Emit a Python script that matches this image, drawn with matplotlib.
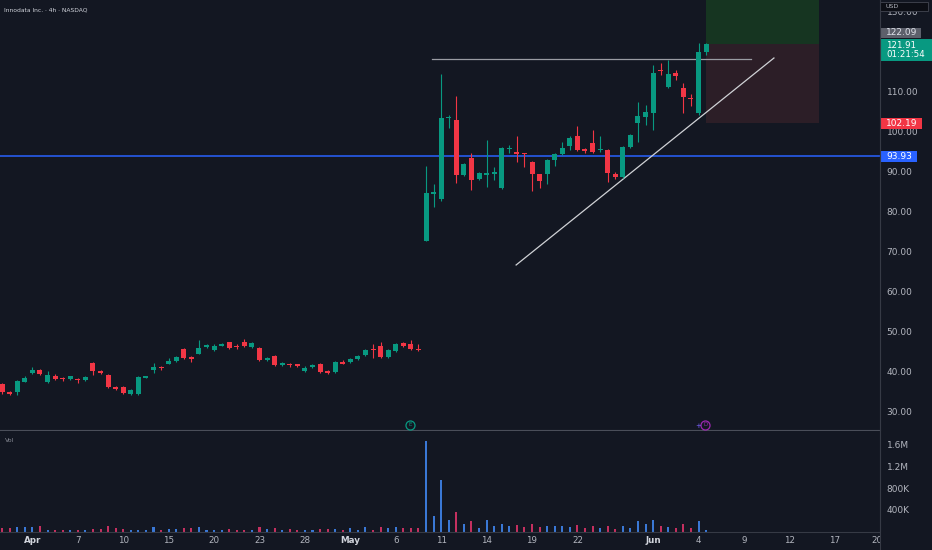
import numpy as np
import matplotlib
matplotlib.use('Agg')
import matplotlib.pyplot as plt
from matplotlib.patches import Rectangle
from matplotlib.transforms import blended_transform_factory

# 4h candles, Innodata Inc.
opens = [36.9, 35.1, 34.9, 37.6, 39.8, 40.4, 37.5, 39.1, 38.3, 38.2,
         38.3, 37.9, 42.3, 40.3, 39.3, 36.3, 36.3, 34.5, 34.5, 38.6,
         40.4, 41.2, 42.1, 42.75, 45.7, 43.8, 44.6, 46.2, 45.5, 46.6,
         47.4, 46.4, 47.4, 46.3, 46.1, 43.0, 44.0, 41.7, 42.1, 41.9,
         40.3, 41.2, 42.0, 40.2, 40.0, 42.6, 42.4, 43.25, 44.3, 45.75,
         46.4, 43.7, 45.25, 47.2, 47.1, 45.8,
         72.75, 84.6, 83.2, 103.4, 103.0, 89.25, 93.4, 88.2, 89.25, 89.6,
         86.1, 95.8, 95.0, 94.75, 92.5, 89.4, 89.5, 93.0, 94.5, 96.5,
         99.0, 95.7, 97.25, 95.4, 95.5, 89.6, 88.8, 96.2, 102.2, 103.75,
         104.8, 115.4, 111.2, 114.7, 111.1, 108.5, 104.7, 119.9]
closes = [34.9, 34.4, 37.75, 38.4, 40.5, 39.4, 39.25, 38.2, 38.2, 38.9,
          38.0, 38.7, 40.25, 39.7, 36.3, 35.75, 34.7, 35.5, 38.7, 38.9,
          41.25, 41.0, 42.8, 43.75, 43.6, 43.2, 46.1, 46.8, 46.6, 47.0,
          46.0, 46.2, 46.5, 47.25, 43.0, 43.5, 41.75, 42.25, 41.75, 41.5,
          41.1, 41.8, 40.0, 39.8, 42.5, 42.1, 43.25, 44.0, 45.5, 45.6,
          43.7, 45.4, 47.0, 46.4, 45.8, 45.5,
          84.8, 85.0, 103.4, 103.8, 89.25, 91.9, 88.0, 89.7, 89.8, 89.9,
          95.9, 96.0, 94.6, 94.4, 89.4, 87.8, 93.0, 94.5, 96.1, 98.4,
          95.6, 95.3, 95.0, 95.75, 89.75, 88.7, 96.3, 99.25, 104.0, 105.0,
          114.8, 115.2, 114.4, 114.1, 108.7, 108.3, 120.1, 121.91]
highs = [37.3, 35.3, 38.0, 38.9, 41.2, 40.7, 40.2, 39.4, 38.8, 39.1,
         38.6, 38.9, 42.5, 40.6, 39.5, 36.5, 36.5, 35.8, 38.9, 39.1,
         42.3, 41.5, 43.4, 44.1, 45.9, 44.0, 48.0, 47.0, 47.0, 47.3,
         47.6, 46.9, 48.2, 47.6, 46.3, 43.8, 44.3, 42.5, 42.3, 42.1,
         41.4, 42.0, 42.2, 40.4, 42.7, 42.9, 43.5, 44.3, 45.8, 46.9,
         47.6, 45.7, 47.3, 47.5, 47.9, 46.9,
         91.5, 86.9, 114.5, 104.25, 109.1, 92.3, 94.7, 90.0, 98.0, 91.3,
         96.2, 96.7, 99.0, 94.8, 92.8, 89.6, 93.3, 94.8, 97.5, 98.9,
         101.5, 96.0, 100.5, 98.9, 95.8, 89.9, 96.6, 99.6, 107.6, 106.75,
         116.75, 117.2, 118.0, 115.5, 112.2, 109.5, 122.3, 122.3]
lows = [34.6, 34.2, 34.3, 37.4, 39.6, 39.2, 37.3, 38.0, 37.7, 38.0,
        37.3, 37.7, 39.3, 39.5, 36.1, 35.5, 34.5, 34.3, 34.3, 38.4,
        39.8, 40.6, 41.9, 42.6, 43.3, 42.6, 44.4, 46.0, 45.3, 46.4,
        45.8, 45.7, 46.3, 46.0, 42.8, 42.7, 41.5, 41.5, 41.3, 41.3,
        40.0, 41.0, 39.8, 39.6, 39.8, 41.9, 42.2, 43.0, 44.0, 43.6,
        43.5, 43.5, 45.0, 46.2, 45.6, 45.3,
        72.75, 81.3, 82.8, 100.9, 87.2, 88.9, 85.5, 87.9, 86.3, 88.0,
        85.8, 94.7, 92.6, 91.3, 85.25, 85.9, 87.0, 91.5, 94.2, 95.4,
        95.3, 94.8, 94.7, 95.1, 87.6, 88.3, 88.5, 95.9, 97.6, 101.75,
        100.5, 114.25, 110.9, 113.0, 104.7, 106.5, 104.25, 119.25]
# volume in thousands
volumes = [60, 60, 75, 75, 75, 110, 35, 35, 25, 25,
           25, 30, 50, 50, 100, 60, 50, 30, 30, 35,
           85, 35, 50, 50, 60, 60, 85, 30, 30, 30,
           50, 35, 35, 35, 85, 50, 60, 30, 50, 35,
           35, 35, 50, 50, 50, 35, 60, 35, 85, 35,
           75, 60, 75, 60, 60, 60,
           1680, 295, 960, 210, 357, 130, 203, 68, 220, 98,
           148, 98, 117, 80, 130, 80, 98, 98, 110, 86,
           123, 61, 98, 68, 110, 50, 98, 68, 185, 148,
           220, 98, 86, 61, 135, 74, 203, 25]

price_ticks = [30, 40, 50, 60, 70, 80, 90, 100, 110, 120, 130]
price_tick_text = ['30.00', '40.00', '50.00', '60.00', '70.00', '80.00', '90.00',
                   '100.00', '110.00', '', '130.00']
tick_pos = [4, 10, 16, 22, 28, 34, 40, 46, 52, 58, 64, 70, 76, 86, 92, 98, 104, 110, 115.6]
tick_text = ['Apr', '7', '10', '15', '20', '23', '28', 'May', '6', '11', '14', '19', '22',
             'Jun', '4', '9', '12', '17', '20']
months = ['Apr', 'May', 'Jun']

support_level = 93.93
stop_level = 102.19
entry_level = 122.0
target_level = 140.0
resistance = 118.3
trend_x = [67.9, 101.96]
trend_y = [66.75, 118.5]

BG = '#131722'
UP = '#089981'
DOWN = '#f23645'
TXT = '#b2b5be'
LINE = '#363a45'

fig = plt.figure(figsize=(9.32, 5.5), dpi=100, facecolor=BG)
ax = fig.add_axes([0, 0.2173, 0.9442, 0.7827], facecolor=BG)
axv = fig.add_axes([0, 0.0336, 0.9442, 0.1828], facecolor=BG, sharex=ax)

x = np.arange(len(opens))
o = np.array(opens)
c = np.array(closes)
up = c >= o
cols = np.where(up, UP, DOWN)

# position tool
ax.add_patch(Rectangle((93, entry_level), 14.9, target_level - entry_level,
                       facecolor='#163521', edgecolor='none', zorder=1))
ax.add_patch(Rectangle((93, stop_level), 14.9, entry_level - stop_level,
                       facecolor='#2c1e27', edgecolor='none', zorder=1))

ax.axhline(support_level, color='#2962ff', lw=1.1, zorder=2)
ax.plot([56.8, 98.9], [resistance, resistance], color='#9a9ca3', lw=0.9, zorder=2)
ax.plot(trend_x, trend_y, color='#d0d2d6', lw=0.9, zorder=2)

ax.vlines(x, lows, highs, colors=cols, lw=0.8, zorder=3)
body = np.maximum(np.abs(c - o), 0.25)
ax.bar(x, body, bottom=np.minimum(o, c), width=0.66, color=cols, zorder=4)

# event markers
ax.plot(53.9, 26.75, 'o', ms=6.5, mfc=BG, mec=UP, mew=0.9, zorder=5)
ax.text(53.9, 26.75, 'E', color=UP, fontsize=4, ha='center', va='center', zorder=6)
ax.plot(92.9, 26.75, 'o', ms=6.5, mfc=BG, mec='#9c27b0', mew=0.9, zorder=5)
ax.text(92.9, 26.75, 'D', color='#9c27b0', fontsize=4, ha='center', va='center', zorder=6)
ax.text(91.9, 26.5, '+', color='#7b61ff', fontsize=5, ha='center', va='center', zorder=6)

ax.set_xlim(-0.28, 115.97)
ax.set_ylim(25.375, 133)
ax.yaxis.tick_right()
ax.set_yticks(price_ticks)
ax.set_yticklabels(price_tick_text)
ax.tick_params(axis='y', length=0, pad=4.8, labelsize=6.5, labelcolor=TXT)
ax.tick_params(axis='x', bottom=False, labelbottom=False)
for s in ['top', 'left']:
    ax.spines[s].set_visible(False)
ax.spines['right'].set_color(LINE)
ax.spines['bottom'].set_color('#4a4e59')

# volume pane
vcols = np.where(up, '#3a78d6', '#c43060')
axv.bar(x, np.array(volumes) * 1000, width=0.27, color=vcols)
axv.set_ylim(0, 1.856e6)
axv.yaxis.tick_right()
axv.set_yticks([400e3, 800e3, 1.2e6, 1.6e6])
axv.set_yticklabels(['400K', '800K', '1.2M', '1.6M'])
axv.tick_params(axis='y', length=0, pad=4.8, labelsize=6.5, labelcolor=TXT)
axv.set_xticks(tick_pos)
axv.set_xticklabels(tick_text)
axv.tick_params(axis='x', length=0, pad=3.5, labelsize=6.3, labelcolor=TXT)
for lab in axv.get_xticklabels():
    if lab.get_text() in months:
        lab.set_fontweight('bold')
        lab.set_color('#d1d4dc')
axv.spines['top'].set_visible(False)
axv.spines['left'].set_visible(False)
axv.spines['right'].set_color(LINE)
axv.spines['bottom'].set_color(LINE)
axv.text(0.006, 0.93, 'Vol', transform=axv.transAxes, fontsize=4.5, color='#868993', va='top')

# price scale tags
tr = blended_transform_factory(fig.transFigure, ax.transData)
fx = 880 / 932


def tag(yc, h, width_px, text, face, tcol='#ffffff', edge='none'):
    ax.add_patch(Rectangle((fx, yc - h / 2), width_px / 932, h, transform=tr,
                           facecolor=face, edgecolor=edge, lw=0.6, clip_on=False, zorder=7))
    ax.text(fx + 6 / 932, yc, text, transform=tr, fontsize=6.5, color=tcol,
            ha='left', va='center', clip_on=False, zorder=8)


tag(131.4, 2.3, 48, '', '#0c0e15', edge='#434651')
ax.text(fx + 5 / 932, 131.4, 'USD', transform=tr, fontsize=4.5, color=TXT,
        ha='left', va='center', clip_on=False, zorder=8)
tag(124.75, 2.5, 41, '122.09', '#5d606b', tcol='#e0e3eb')
ax.add_patch(Rectangle((fx, 117.75), 52 / 932, 5.5, transform=tr, facecolor=UP,
                       edgecolor='none', clip_on=False, zorder=7))
ax.text(fx + 6 / 932, 120.55, '121.91\n01:21:54', transform=tr, fontsize=6.2,
        color='#ffffff', ha='left', va='center', linespacing=1.05,
        clip_on=False, zorder=8)
tag(stop_level, 2.75, 42, '102.19', DOWN)
tag(support_level, 2.75, 37, '93.93', '#2962ff')

fig.text(0.004, 0.987, 'Innodata Inc. · 4h · NASDAQ', fontsize=4.3, color='#d1d4dc', va='top')

# cover for the clipped date label under the price scale
fig.add_artist(Rectangle((fx, 0), 1 - fx, 0.0336, transform=fig.transFigure,
                         facecolor=BG, edgecolor='none', zorder=3))
fig.add_artist(plt.Line2D([fx, fx], [0, 1], transform=fig.transFigure, color=LINE,
                          lw=0.8, zorder=4))

fig.savefig('out.png', dpi=100, facecolor=BG)
